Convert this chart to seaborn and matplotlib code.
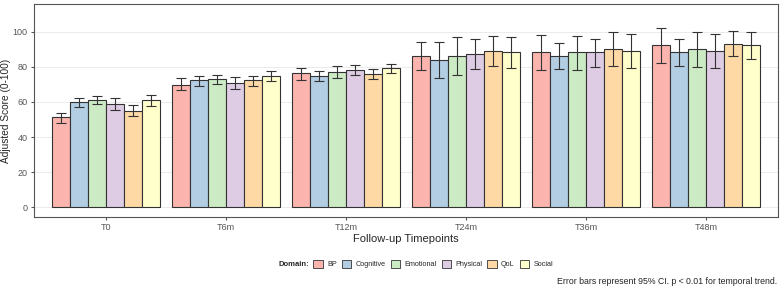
import pandas as pd
import numpy as np
import matplotlib.pyplot as plt
import seaborn as sns
from matplotlib.patches import Patch

# Data
timepoints = ['T0', 'T6m', 'T12m', 'T24m', 'T36m', 'T48m']
domains = ['BP', 'Cognitive', 'Emotional', 'Physical', 'QoL', 'Social']

# mean score per domain, one entry per timepoint
bp        = [51.2, 69.8, 76.3, 86.0, 88.2, 92.2]
cognitive = [60.2, 72.3, 75.0, 83.9, 86.0, 88.2]
emotional = [60.9, 72.9, 76.9, 86.0, 88.2, 90.3]
physical  = [59.0, 71.0, 78.0, 87.1, 88.2, 89.0]
qol       = [55.0, 72.3, 76.1, 89.0, 90.3, 93.0]
social    = [61.0, 75.0, 79.1, 88.2, 89.0, 92.2]

# 95% CI bounds
bp_lo        = [48.2, 66.8, 72.5, 78.0, 78.0, 82.0]
bp_hi        = [53.5, 73.4, 79.5, 94.1, 97.9, 102.3]
cognitive_lo = [57.3, 68.9, 71.7, 73.8, 78.7, 80.3]
cognitive_hi = [62.4, 74.8, 77.8, 94.1, 93.4, 95.6]
emotional_lo = [58.6, 70.2, 73.6, 75.1, 78.4, 79.9]
emotional_hi = [63.6, 75.5, 80.3, 96.8, 97.5, 100.0]
physical_lo  = [55.2, 67.6, 75.1, 78.7, 79.9, 79.1]
physical_hi  = [62.4, 74.4, 80.9, 95.6, 96.0, 98.9]
qol_lo       = [51.8, 68.9, 73.2, 80.3, 80.3, 86.0]
qol_hi       = [58.0, 74.8, 78.9, 97.7, 100.0, 100.4]
social_lo    = [57.5, 72.1, 76.5, 79.1, 79.5, 84.3]
social_hi    = [64.1, 77.8, 81.6, 97.2, 98.9, 100.0]

means = [bp, cognitive, emotional, physical, qol, social]
lows = [bp_lo, cognitive_lo, emotional_lo, physical_lo, qol_lo, social_lo]
highs = [bp_hi, cognitive_hi, emotional_hi, physical_hi, qol_hi, social_hi]

rows = []
for d, m, lo, hi in zip(domains, means, lows, highs):
    for t, v, l, h in zip(timepoints, m, lo, hi):
        rows.append({'Timepoint': t, 'Domain': d, 'Score': v, 'Lower': l, 'Upper': h})
df = pd.DataFrame(rows)

palette = ['#FBB4AE', '#B3CDE3', '#CCEBC5', '#DECBE4', '#FED9A6', '#FFFFCC']
edge = '#333333'

sns.set_style('white')
plt.rcParams['font.family'] = ['Liberation Sans', 'DejaVu Sans']

fig = plt.figure(figsize=(7.83, 2.92), dpi=100)
ax = fig.add_axes([0.0434, 0.257, 0.9502, 0.728])

sns.barplot(data=df, x='Timepoint', y='Score', hue='Domain', order=timepoints,
            hue_order=domains, palette=palette, width=0.9, errorbar=None,
            edgecolor=edge, linewidth=0.8, saturation=1, legend=False, ax=ax)

# error bars placed at the bar centres that seaborn computed
for i, d in enumerate(domains):
    sub = df[df['Domain'] == d].set_index('Timepoint').loc[timepoints]
    bars = ax.patches[i * len(timepoints):(i + 1) * len(timepoints)]
    xs = [b.get_x() + b.get_width() / 2 for b in bars]
    ax.errorbar(xs, sub['Score'], yerr=[sub['Score'] - sub['Lower'], sub['Upper'] - sub['Score']],
                fmt='none', ecolor=edge, elinewidth=0.8, capsize=3.6, capthick=0.8)

ax.set_xlim(-0.6, 5.6)
ax.set_ylim(-5.5, 115.5)
ax.set_yticks([0, 20, 40, 60, 80, 100])
ax.yaxis.grid(True, color='#EBEBEB', linewidth=0.7)
ax.set_axisbelow(True)
for s in ax.spines.values():
    s.set_visible(True)
    s.set_color('#555555')
    s.set_linewidth(0.8)
ax.tick_params(axis='both', length=2.5, color='#555555', labelsize=6.5, labelcolor='#555555',
               pad=2, bottom=True, left=True)
ax.set_xlabel('Follow-up Timepoints', fontsize=8, labelpad=1)
ax.set_ylabel('Adjusted Score (0-100)', fontsize=7.3, labelpad=1.5)

handles = [Patch(facecolor=c, edgecolor=edge, linewidth=0.6) for c in palette]
fig.text(0.356, 0.095, 'Domain:', fontsize=5.5, fontweight='bold', va='center', ha='left')
fig.legend(handles, domains, loc='center left', bbox_to_anchor=(0.4, 0.095), ncol=6,
           frameon=False, fontsize=5.2, handlelength=1.35, handleheight=1.35,
           handletextpad=0.55, columnspacing=0.7, borderaxespad=0, borderpad=0)
fig.text(0.992, 0.035, 'Error bars represent 95% CI. p < 0.01 for temporal trend.',
         fontsize=6.3, ha='right', va='center')

fig.savefig('out.png', dpi=100)
